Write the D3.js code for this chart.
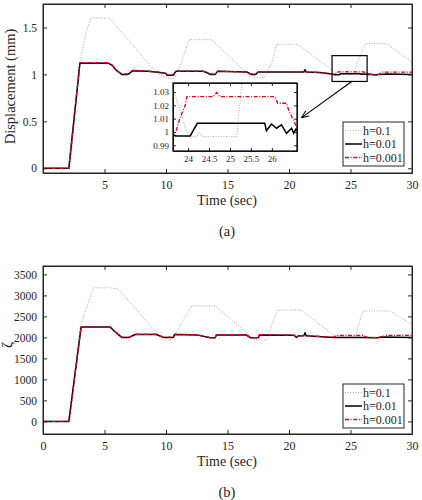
<!DOCTYPE html>
<html><head><meta charset="utf-8">
<script src="https://cdn.jsdelivr.net/npm/d3@7"></script>
<style>body{margin:0;background:#fff}svg{display:block}text{font-family:"Liberation Serif","Times New Roman",serif;fill:#262626}</style>
</head><body><svg id="c" width="422" height="500"></svg>
<script>
// ---------- data (a) displacement ----------
const tA_h01=[0,2.2,2.6,3.0,3.5,3.9,5.2,5.3,5.4,9.2,10.0,10.7,11.3,11.9,13.7,16.8,17.3,18.0,18.6,19.0,20.7,23.8,23.97,24.1,24.22,24.27,24.33,25.16,26.2,27.9,30];
const vA_h01=[0,0,0.55,1.12,1.45,1.60,1.60,1.61,1.60,1.02,0.96,0.96,1.15,1.37,1.37,0.98,0.97,0.97,1.12,1.32,1.32,1.017,1.0,0.9965,0.9965,1.0,0.9965,0.9965,1.33,1.33,1.13];
const tA_h001=[0,2.1,3.0,5.3,5.6,6.0,6.4,6.9,7.1,7.3,8.5,9.5,10.0,10.1,10.6,10.8,13.0,13.3,13.6,14.0,14.2,16.6,16.9,17.3,17.5,21.2,21.3,21.4,22.5,23.5,23.65,23.7,24.05,24.22,25.83,25.87,25.99,26.11,26.23,26.35,26.47,26.52,26.57,26.7,27.0,27.3,28,30];
const vA_h001=[0,0,1.12,1.12,1.10,1.04,1.0,1.0,1.02,1.04,1.035,1.02,1.01,0.99,0.99,1.035,1.035,1.02,1.0,1.0,1.035,1.025,1.0,1.0,1.025,1.025,1.05,1.025,1.02,1.005,0.998,0.997,0.997,1.0065,1.0065,1.001,1.006,1.0028,1.0053,0.999,1.0028,0.999,1.002,1.0,0.995,1.0,1.005,1.0];
const tA_h0001=[0,2.1,3.0,5.3,5.6,6.0,6.4,6.9,7.1,7.3,8.5,9.5,10.0,10.1,10.6,10.8,13.0,13.3,13.6,14.0,14.2,16.6,16.9,17.3,17.5,21.0,22.5,23.5,23.66,23.7,23.8,23.93,23.97,24.6,24.68,24.76,26.07,26.14,26.35,26.4,26.55,26.6,26.8,27.3,27.6,30];
const vA_h0001=[0,0,1.125,1.125,1.10,1.04,1.005,1.005,1.025,1.045,1.035,1.025,1.01,0.995,0.995,1.035,1.035,1.025,1.005,1.005,1.035,1.025,1.005,1.005,1.03,1.03,1.02,1.005,1.0,0.999,1.01,1.02,1.0265,1.0265,1.0296,1.0265,1.0265,1.0216,1.0216,1.0165,1.0065,1.003,1.0,1.0,1.025,1.025];
// ---------- data (b) zeta ----------
const tB_h01=[0,2.2,3.0,4.1,5.0,5.2,5.4,6.1,9.8,10.3,11.0,12.1,14.0,17.2,18.2,18.6,19.1,21.0,23.7,25.4,26.0,28.2,30];
const vB_h01=[0,0,2240,3180,3180,3210,3180,3160,1920,1920,2200,2750,2750,1940,1940,2300,2650,2650,2040,2030,2630,2630,2300];
const tB_h001=[0,2.1,3.1,5.45,5.8,6.4,7.0,7.5,9.2,9.8,10.6,10.7,12.5,13.6,14.0,14.1,16.5,16.9,17.5,17.6,20.4,20.6,20.8,21.2,21.3,21.4,23.6,26.0,26.8,27.2,27.5,30];
const vB_h001=[0,0,2250,2250,2150,2000,2000,2070,2070,2000,2000,2070,2060,1990,1990,2060,2060,1990,1990,2060,2050,2000,2040,2040,2110,2040,2000,2000,1990,1990,2010,2000];
const tB_h0001=[0,2.1,3.1,5.45,5.8,6.4,7.0,7.5,9.2,9.8,10.6,10.7,12.5,13.6,14.0,14.1,16.5,16.9,17.5,17.6,20.4,20.6,20.8,22.0,23.6,23.9,26.0,26.3,27.2,28.0,30];
const vB_h0001=[0,0,2250,2250,2150,2005,2005,2075,2075,2005,2005,2075,2065,1995,1995,2065,2065,1995,1995,2065,2055,2005,2040,2030,2005,2045,2045,2005,1995,2050,2050];
// ---------- ticks / labels ----------
const xTicks=[0,5,10,15,20,25,30];
const yTicksA=[0,0.5,1,1.5];
const yTicksB=[0,500,1000,1500,2000,2500,3000,3500];
const insetXTicks=[24,24.5,25,25.5,26];
const insetYTicks=[0.99,1,1.01,1.02,1.03];
const seriesNames=["h=0.1","h=0.01","h=0.001"];
const zoomRect=[23.5,26.35,0.925,1.2];

const styles=[
 {stroke:"#a8a8a8",w:1,dash:"1,1.6"},
 {stroke:"#000",w:1.5,dash:null},
 {stroke:"#e3001b",w:1.3,dash:"4,1.6,1,1.6"}
];
const svg=d3.select("#c");
const AX="#262626";
const FONT='"Liberation Serif","Times New Roman",serif';

function zip(t,v){return t.map((x,i)=>[x,v[i]]);}

function styleAxis(a,fs){
  a.attr("font-family",FONT);
  a.select(".domain").attr("stroke",AX);
  a.selectAll(".tick line").attr("stroke",AX);
  a.selectAll("text").attr("font-size",fs).style("font-family",FONT).attr("fill",AX);
}

function panel(g,opt){
  const x=d3.scaleLinear().domain([0,30]).range([43,412]);
  const y=d3.scaleLinear().domain(opt.ydom).range(opt.yr);
  const [y0,y1]=opt.yr;
  const clipId="clip"+opt.id;
  g.append("clipPath").attr("id",clipId).append("rect").attr("x",43).attr("y",y1).attr("width",369).attr("height",y0-y1);
  const line=d3.line().x(d=>x(d[0])).y(d=>y(d[1]));
  const lg=g.append("g").attr("clip-path",`url(#${clipId})`);
  opt.series.forEach((s,i)=>{
    lg.append("path").attr("d",line(s)).attr("fill","none").attr("stroke",styles[i].stroke)
      .attr("stroke-width",styles[i].w).attr("stroke-dasharray",styles[i].dash).attr("stroke-linejoin","round");
  });
  const tk=4;
  const xb=g.append("g").attr("transform",`translate(0,${y0})`).call(d3.axisBottom(x).tickValues(xTicks).tickSizeInner(-tk).tickSizeOuter(0).tickPadding(7).tickFormat(d=>(opt.hideZero&&d===0)?"":String(d)));
  const xt=g.append("g").attr("transform",`translate(0,${y1})`).call(d3.axisTop(x).tickValues(xTicks).tickSizeInner(-tk).tickSizeOuter(0).tickFormat(""));
  const yl=g.append("g").attr("transform",`translate(43,0)`).call(d3.axisLeft(y).tickValues(opt.yticks).tickSizeInner(-tk).tickSizeOuter(0).tickPadding(6).tickFormat(d=>String(d)));
  const yr=g.append("g").attr("transform",`translate(412,0)`).call(d3.axisRight(y).tickValues(opt.yticks).tickSizeInner(-tk).tickSizeOuter(0).tickFormat(""));
  [xb,xt,yr].forEach(a=>styleAxis(a,12));
  styleAxis(yl,11.5);
  g.append("rect").attr("x",43).attr("y",y1).attr("width",369).attr("height",y0-y1).attr("fill","none").attr("stroke",AX).attr("stroke-width",1);
  g.append("text").attr("x",227).attr("y",y0+32).attr("text-anchor","middle").attr("font-size",14).text("Time (sec)");
  g.append("text").attr("x",227).attr("y",y0+63).attr("text-anchor","middle").attr("font-size",14.5).text(opt.cap);
  g.append("text").attr("transform",`translate(${opt.ylx},${(y0+y1)/2+opt.yloff}) rotate(-90)`).attr("text-anchor","middle").attr("font-size",opt.ylfs).text(opt.ylab);
  const L=opt.leg;
  const lgd=g.append("g");
  lgd.append("rect").attr("x",L.x).attr("y",L.y).attr("width",61).attr("height",44).attr("fill","#fff").attr("stroke",AX).attr("stroke-width",1);
  seriesNames.forEach((n,i)=>{
    const yy=L.y+8.5+i*13.5;
    lgd.append("line").attr("x1",L.x+2).attr("x2",L.x+19).attr("y1",yy).attr("y2",yy).attr("stroke",styles[i].stroke).attr("stroke-width",styles[i].w).attr("stroke-dasharray",styles[i].dash);
    lgd.append("text").attr("x",L.x+20).attr("y",yy+4.2).attr("font-size",12).text(n);
  });
  return {x,y};
}

const A=panel(svg.append("g"),{id:"a",ydom:[-0.05,1.75],yr:[173,4],yticks:yTicksA,hideZero:true,cap:"(a)",ylab:"Displacement (mm)",ylx:15,yloff:-2,ylfs:14.5,
  series:[zip(tA_h01,vA_h01),zip(tA_h001,vA_h001),zip(tA_h0001,vA_h0001)],leg:{x:343,y:122}});
const B=panel(svg.append("g"),{id:"b",ydom:[-300,3700],yr:[434,266],yticks:yTicksB,hideZero:false,cap:"(b)",ylab:"ζ",ylx:12,yloff:-5,ylfs:15,
  series:[zip(tB_h01,vB_h01),zip(tB_h001,vB_h001),zip(tB_h0001,vB_h0001)],leg:{x:343,y:384}});

// zoom rectangle in (a)
svg.append("rect").attr("x",A.x(zoomRect[0])).attr("y",A.y(zoomRect[3])).attr("width",A.x(zoomRect[1])-A.x(zoomRect[0])).attr("height",A.y(zoomRect[2])-A.y(zoomRect[3])).attr("fill","none").attr("stroke","#000").attr("stroke-width",1.2);

// inset
const ix=d3.scaleLinear().domain([23.64,26.6]).range([173,297]);
const iy=d3.scaleLinear().domain([0.9857,1.0368]).range([151,83]);
const ig=svg.append("g");
ig.append("rect").attr("x",173).attr("y",83).attr("width",124).attr("height",68).attr("fill","#fff");
ig.append("clipPath").attr("id","clipi").append("rect").attr("x",173).attr("y",83).attr("width",124).attr("height",68);
const iline=d3.line().x(d=>ix(d[0])).y(d=>iy(d[1]));
const ilg=ig.append("g").attr("clip-path","url(#clipi)");
[zip(tA_h01,vA_h01),zip(tA_h001,vA_h001),zip(tA_h0001,vA_h0001)].forEach((s,i)=>{
  ilg.append("path").attr("d",iline(s)).attr("fill","none").attr("stroke",styles[i].stroke).attr("stroke-width",styles[i].w).attr("stroke-dasharray",styles[i].dash);
});
const itk=3;
[
 ig.append("g").attr("transform","translate(0,151)").call(d3.axisBottom(ix).tickValues(insetXTicks).tickSizeInner(-itk).tickSizeOuter(0).tickPadding(5).tickFormat(d=>String(d))),
 ig.append("g").attr("transform","translate(0,83)").call(d3.axisTop(ix).tickValues(insetXTicks).tickSizeInner(-itk).tickSizeOuter(0).tickFormat("")),
 ig.append("g").attr("transform","translate(173,0)").call(d3.axisLeft(iy).tickValues(insetYTicks).tickSizeInner(-itk).tickSizeOuter(0).tickPadding(4).tickFormat(d=>String(d))),
 ig.append("g").attr("transform","translate(297,0)").call(d3.axisRight(iy).tickValues(insetYTicks).tickSizeInner(-itk).tickSizeOuter(0).tickFormat(""))
].forEach(a=>styleAxis(a,9));
ig.append("rect").attr("x",173).attr("y",83).attr("width",124).attr("height",68).attr("fill","none").attr("stroke","#000").attr("stroke-width",1.2);

// arrow
svg.append("defs").append("marker").attr("id","ah").attr("viewBox","0 0 10 10").attr("refX",9).attr("refY",5).attr("markerWidth",7).attr("markerHeight",7).attr("orient","auto")
  .append("path").attr("d","M0,1 L10,5 L0,9").attr("fill","none").attr("stroke","#000").attr("stroke-width",1.4);
svg.append("line").attr("x1",A.x(25.1)).attr("y1",A.y(zoomRect[2])).attr("x2",ix(26.6)+5).attr("y2",iy(1.011)).attr("stroke","#000").attr("stroke-width",1.1).attr("marker-end","url(#ah)");
</script></body></html>
